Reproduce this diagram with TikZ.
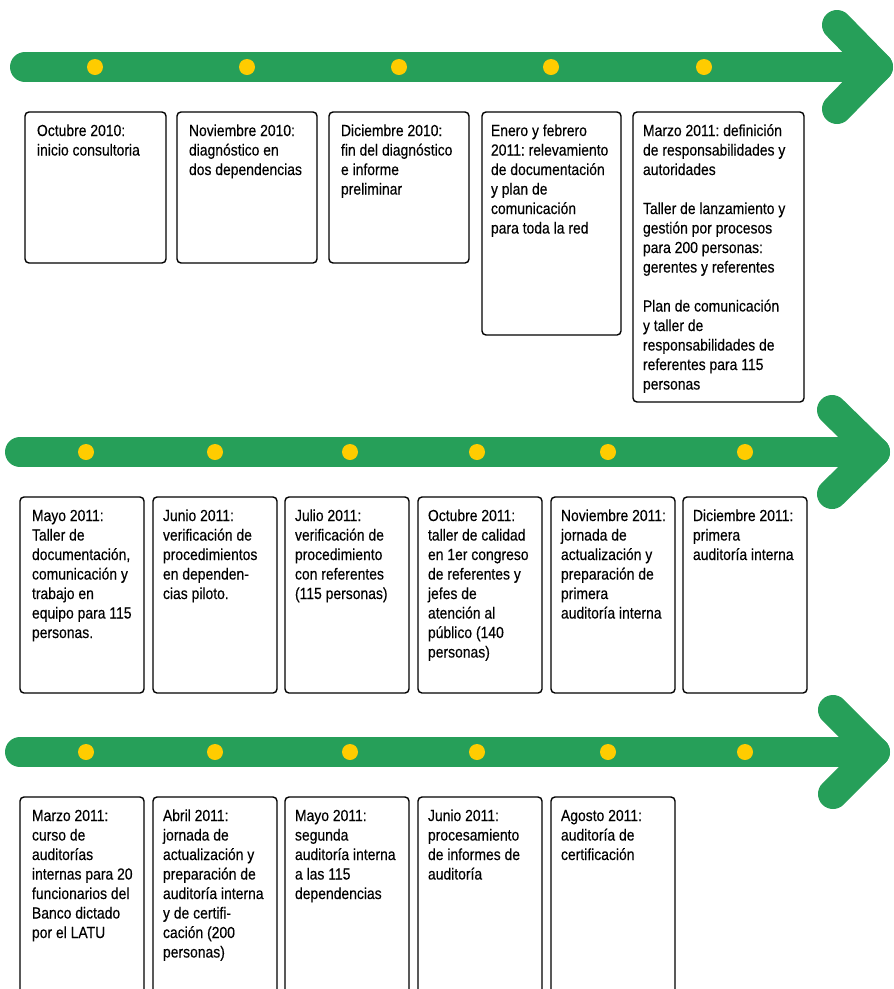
\documentclass[tikz,border=0pt]{standalone}
\usepackage{fontspec}
\setmainfont{Liberation Sans}[FakeStretch=0.87,FakeBold=0.3]
\definecolor{tlgreen}{RGB}{38,159,89}
\definecolor{tldot}{RGB}{255,204,0}
\frenchspacing
\begin{document}
\begin{tikzpicture}[x=1pt,y=-1pt,
  bar/.style={draw=tlgreen, line width=30pt, line cap=round, line join=round},
  dot/.style={circle, fill=tldot, minimum size=16pt, inner sep=0pt},
  box/.style={draw=black, line width=1.4pt, rounded corners=4pt, inner sep=0pt, outer sep=0pt, anchor=north west},
  txt/.style={inner sep=0pt, outer sep=0pt, anchor=north west, align=left, font=\fontsize{16}{19.5}\selectfont\frenchspacing}]
\clip (0,0) rectangle (894,989);
\useasboundingbox (0,0) rectangle (894,989);

% ---------- row 1 ----------
\draw[bar] (25,67) -- (878,67);
\draw[bar] (837,25) -- (878,67) -- (837,109);
\foreach \x [count=\i] in {95,247,399,551,704} \node[dot] (da\i) at (\x,67) {};

\node[box, minimum width=141pt, minimum height=151pt] (b11) at (25,112) {};
\node[box, minimum width=140pt, minimum height=151pt] (b12) at (177,112) {};
\node[box, minimum width=140pt, minimum height=151pt] (b13) at (329,112) {};
\node[box, minimum width=139pt, minimum height=223pt] (b14) at (482,112) {};
\node[box, minimum width=171pt, minimum height=290pt] (b15) at (633,112) {};

\node[txt] (t11) at ([shift={(12,10.35)}]b11.north west) {\strut Octubre 2010:\\inicio consultoria};
\node[txt] (t12) at ([shift={(12,10.35)}]b12.north west) {\strut Noviembre 2010:\\diagnóstico en\\dos dependencias};
\node[txt] (t13) at ([shift={(12,10.35)}]b13.north west) {\strut Diciembre 2010:\\fin del diagnóstico\\e informe\\preliminar};
\node[txt] (t14) at ([shift={(9,10.35)}]b14.north west) {\strut Enero y febrero\\2011: relevamiento\\de documentación\\y plan de\\comunicación\\para toda la red};
\node[txt] (t15) at ([shift={(10,10.35)}]b15.north west) {\strut Marzo 2011: definición\\de responsabilidades y\\autoridades\\[19.5pt]Taller de lanzamiento y\\gestión por procesos\\para 200 personas:\\gerentes y referentes\\[19.5pt]Plan de comunicación\\y taller de\\responsabilidades de\\referentes para 115\\personas};

% ---------- row 2 ----------
\draw[bar] (20,452) -- (875,452);
\draw[bar] (832,410) -- (875,452) -- (832,494);
\foreach \x [count=\i] in {86,215,350,477,608,745} \node[dot] (db\i) at (\x,452) {};

\foreach \x [count=\i] in {20,153,285,418,551,683}
  \node[box, minimum width=124pt, minimum height=196pt] (b2\i) at (\x,497) {};

\node[txt] (t21) at ([shift={(12,10.35)}]b21.north west) {\strut Mayo 2011:\\Taller de\\documentación,\\comunicación y\\trabajo en\\equipo para 115\\personas.};
\node[txt] (t22) at ([shift={(10,10.35)}]b22.north west) {\strut Junio 2011:\\verificación de\\procedimientos\\en dependen-\\cias piloto.};
\node[txt] (t23) at ([shift={(10,10.35)}]b23.north west) {\strut Julio 2011:\\verificación de\\procedimiento\\con referentes\\(115 personas)};
\node[txt] (t24) at ([shift={(10,10.35)}]b24.north west) {\strut Octubre 2011:\\taller de calidad\\en 1er congreso\\de referentes y\\jefes de\\atención al\\público (140\\personas)};
\node[txt] (t25) at ([shift={(10,10.35)}]b25.north west) {\strut Noviembre 2011:\\jornada de\\actualización y\\preparación de\\primera\\auditoría interna};
\node[txt] (t26) at ([shift={(10,10.35)}]b26.north west) {\strut Diciembre 2011:\\primera\\auditoría interna};

% ---------- row 3 ----------
\draw[bar] (20,752) -- (875,752);
\draw[bar] (833,710) -- (875,752) -- (833,794);
\foreach \x [count=\i] in {86,215,350,477,608,745} \node[dot] (dc\i) at (\x,752) {};

\foreach \x [count=\i] in {20,153,285,418,551}
  \node[box, minimum width=124pt, minimum height=230pt] (b3\i) at (\x,797) {};

\node[txt] (t31) at ([shift={(12,10.35)}]b31.north west) {\strut Marzo 2011:\\curso de\\auditorías\\internas para 20\\funcionarios del\\Banco dictado\\por el LATU};
\node[txt] (t32) at ([shift={(10,10.35)}]b32.north west) {\strut Abril 2011:\\jornada de\\actualización y\\preparación de\\auditoría interna\\y de certifi-\\cación (200\\personas)};
\node[txt] (t33) at ([shift={(10,10.35)}]b33.north west) {\strut Mayo 2011:\\segunda\\auditoría interna\\a las 115\\dependencias};
\node[txt] (t34) at ([shift={(10,10.35)}]b34.north west) {\strut Junio 2011:\\procesamiento\\de informes de\\auditoría};
\node[txt] (t35) at ([shift={(10,10.35)}]b35.north west) {\strut Agosto 2011:\\auditoría de\\certificación};
\end{tikzpicture}
\end{document}
